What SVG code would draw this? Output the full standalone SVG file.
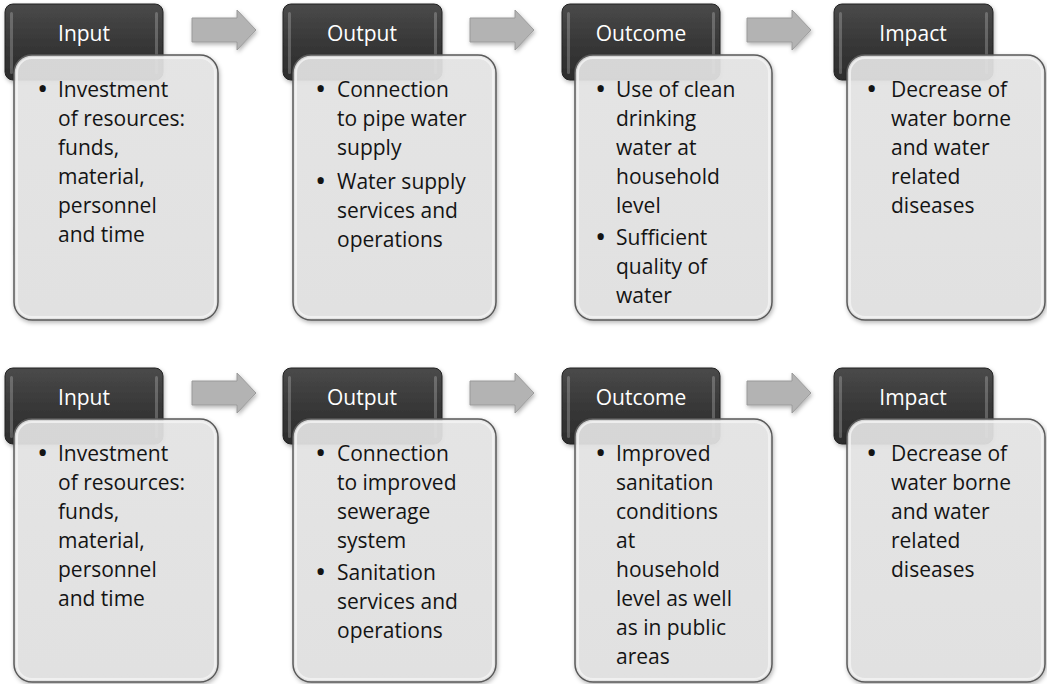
<svg xmlns="http://www.w3.org/2000/svg" width="1047" height="684" viewBox="0 0 1047 684">
<defs>
<linearGradient id="tabg" x1="0" y1="0" x2="0" y2="1">
<stop offset="0" stop-color="#4a4a4a"/>
<stop offset="0.5" stop-color="#383838"/>
<stop offset="1" stop-color="#2c2c2c"/>
</linearGradient>
<linearGradient id="bodyg" x1="0" y1="0" x2="0" y2="1">
<stop offset="0" stop-color="#e6e6e6"/>
<stop offset="1" stop-color="#e2e2e2"/>
</linearGradient>
<filter id="sh" x="-10%" y="-10%" width="125%" height="125%">
<feDropShadow dx="1" dy="2" stdDeviation="2" flood-color="#000" flood-opacity="0.3"/>
</filter>
<path id="arr" d="M0,8 H45 V0 L64,20 L45,40 V32 H0 Z"/>
</defs>
<style>
.tab{fill:url(#tabg);stroke:#222;stroke-width:1}
.hl{fill:#ffffff;opacity:0.22}
.body{fill:url(#bodyg);fill-opacity:0.9;stroke:#5a5a5a;stroke-width:1.5}
.inner{fill:none;stroke:#f4f4f4;stroke-width:2;opacity:0.8}
.arrow{fill:#b3b3b3;stroke:#9a9a9a;stroke-width:1}
.h{font-family:"Open Sans",sans-serif;font-size:21px;fill:#ffffff;text-anchor:middle}
.t{font-family:"Open Sans",sans-serif;font-size:21px;fill:#141414}
.b{font-size:30px}
</style>
<rect width="1047" height="684" fill="#ffffff"/>
<g id="connectors">
<use href="#arr" class="arrow" x="192" y="10" filter="url(#sh)"/>
<use href="#arr" class="arrow" x="470" y="10" filter="url(#sh)"/>
<use href="#arr" class="arrow" x="747" y="10" filter="url(#sh)"/>
<use href="#arr" class="arrow" x="192" y="373" filter="url(#sh)"/>
<use href="#arr" class="arrow" x="470" y="373" filter="url(#sh)"/>
<use href="#arr" class="arrow" x="747" y="373" filter="url(#sh)"/>
</g>
<g id="r1-input">
<rect class="tab" x="5" y="4" width="158" height="76" rx="8" filter="url(#sh)"/>
<rect class="hl" x="10" y="12" width="3" height="62" rx="1.5"/>
<rect class="hl" x="155" y="12" width="3" height="62" rx="1.5"/>
<text class="h" x="84" y="41">Input</text>
<rect class="body" x="14" y="55" width="204" height="265" rx="18" filter="url(#sh)"/>
<rect class="inner" x="17" y="58" width="198" height="259" rx="15"/>
<text class="t"><tspan class="b" x="37" y="99">•</tspan><tspan x="58" y="97">Investment</tspan><tspan x="58" y="126">of resources:</tspan><tspan x="58" y="155">funds,</tspan><tspan x="58" y="184">material,</tspan><tspan x="58" y="213">personnel</tspan><tspan x="58" y="242">and time</tspan></text>
</g>
<g id="r1-output">
<rect class="tab" x="283" y="4" width="159" height="76" rx="8" filter="url(#sh)"/>
<rect class="hl" x="288" y="12" width="3" height="62" rx="1.5"/>
<rect class="hl" x="434" y="12" width="3" height="62" rx="1.5"/>
<text class="h" x="362" y="41">Output</text>
<rect class="body" x="293" y="55" width="203" height="265" rx="18" filter="url(#sh)"/>
<rect class="inner" x="296" y="58" width="197" height="259" rx="15"/>
<text class="t"><tspan class="b" x="315" y="99">•</tspan><tspan x="337" y="97">Connection</tspan><tspan x="337" y="126">to pipe water</tspan><tspan x="337" y="155">supply</tspan><tspan class="b" x="315" y="191">•</tspan><tspan x="337" y="189">Water supply</tspan><tspan x="337" y="218">services and</tspan><tspan x="337" y="247">operations</tspan></text>
</g>
<g id="r1-outcome">
<rect class="tab" x="562" y="4" width="158" height="76" rx="8" filter="url(#sh)"/>
<rect class="hl" x="567" y="12" width="3" height="62" rx="1.5"/>
<rect class="hl" x="712" y="12" width="3" height="62" rx="1.5"/>
<text class="h" x="641" y="41">Outcome</text>
<rect class="body" x="575" y="55" width="197" height="265" rx="18" filter="url(#sh)"/>
<rect class="inner" x="578" y="58" width="191" height="259" rx="15"/>
<text class="t"><tspan class="b" x="595" y="99">•</tspan><tspan x="616" y="97">Use of clean</tspan><tspan x="616" y="126">drinking</tspan><tspan x="616" y="155">water at</tspan><tspan x="616" y="184">household</tspan><tspan x="616" y="213">level</tspan><tspan class="b" x="595" y="247">•</tspan><tspan x="616" y="245">Sufficient</tspan><tspan x="616" y="274">quality of</tspan><tspan x="616" y="303">water</tspan></text>
</g>
<g id="r1-impact">
<rect class="tab" x="834" y="4" width="159" height="76" rx="8" filter="url(#sh)"/>
<rect class="hl" x="839" y="12" width="3" height="62" rx="1.5"/>
<rect class="hl" x="985" y="12" width="3" height="62" rx="1.5"/>
<text class="h" x="913" y="41">Impact</text>
<rect class="body" x="847" y="55" width="198" height="265" rx="18" filter="url(#sh)"/>
<rect class="inner" x="850" y="58" width="192" height="259" rx="15"/>
<text class="t"><tspan class="b" x="866" y="99">•</tspan><tspan x="891" y="97">Decrease of</tspan><tspan x="891" y="126">water borne</tspan><tspan x="891" y="155">and water</tspan><tspan x="891" y="184">related</tspan><tspan x="891" y="213">diseases</tspan></text>
</g>
<g id="r2-input">
<rect class="tab" x="5" y="368" width="158" height="76" rx="8" filter="url(#sh)"/>
<rect class="hl" x="10" y="376" width="3" height="62" rx="1.5"/>
<rect class="hl" x="155" y="376" width="3" height="62" rx="1.5"/>
<text class="h" x="84" y="405">Input</text>
<rect class="body" x="14" y="419" width="204" height="263" rx="18" filter="url(#sh)"/>
<rect class="inner" x="17" y="422" width="198" height="257" rx="15"/>
<text class="t"><tspan class="b" x="37" y="463">•</tspan><tspan x="58" y="461">Investment</tspan><tspan x="58" y="490">of resources:</tspan><tspan x="58" y="519">funds,</tspan><tspan x="58" y="548">material,</tspan><tspan x="58" y="577">personnel</tspan><tspan x="58" y="606">and time</tspan></text>
</g>
<g id="r2-output">
<rect class="tab" x="283" y="368" width="159" height="76" rx="8" filter="url(#sh)"/>
<rect class="hl" x="288" y="376" width="3" height="62" rx="1.5"/>
<rect class="hl" x="434" y="376" width="3" height="62" rx="1.5"/>
<text class="h" x="362" y="405">Output</text>
<rect class="body" x="293" y="419" width="203" height="263" rx="18" filter="url(#sh)"/>
<rect class="inner" x="296" y="422" width="197" height="257" rx="15"/>
<text class="t"><tspan class="b" x="315" y="463">•</tspan><tspan x="337" y="461">Connection</tspan><tspan x="337" y="490">to improved</tspan><tspan x="337" y="519">sewerage</tspan><tspan x="337" y="548">system</tspan><tspan class="b" x="315" y="582">•</tspan><tspan x="337" y="580">Sanitation</tspan><tspan x="337" y="609">services and</tspan><tspan x="337" y="638">operations</tspan></text>
</g>
<g id="r2-outcome">
<rect class="tab" x="562" y="368" width="158" height="76" rx="8" filter="url(#sh)"/>
<rect class="hl" x="567" y="376" width="3" height="62" rx="1.5"/>
<rect class="hl" x="712" y="376" width="3" height="62" rx="1.5"/>
<text class="h" x="641" y="405">Outcome</text>
<rect class="body" x="575" y="419" width="197" height="263" rx="18" filter="url(#sh)"/>
<rect class="inner" x="578" y="422" width="191" height="257" rx="15"/>
<text class="t"><tspan class="b" x="595" y="463">•</tspan><tspan x="616" y="461">Improved</tspan><tspan x="616" y="490">sanitation</tspan><tspan x="616" y="519">conditions</tspan><tspan x="616" y="548">at</tspan><tspan x="616" y="577">household</tspan><tspan x="616" y="606">level as well</tspan><tspan x="616" y="635">as in public</tspan><tspan x="616" y="664">areas</tspan></text>
</g>
<g id="r2-impact">
<rect class="tab" x="834" y="368" width="159" height="76" rx="8" filter="url(#sh)"/>
<rect class="hl" x="839" y="376" width="3" height="62" rx="1.5"/>
<rect class="hl" x="985" y="376" width="3" height="62" rx="1.5"/>
<text class="h" x="913" y="405">Impact</text>
<rect class="body" x="847" y="419" width="198" height="263" rx="18" filter="url(#sh)"/>
<rect class="inner" x="850" y="422" width="192" height="257" rx="15"/>
<text class="t"><tspan class="b" x="866" y="463">•</tspan><tspan x="891" y="461">Decrease of</tspan><tspan x="891" y="490">water borne</tspan><tspan x="891" y="519">and water</tspan><tspan x="891" y="548">related</tspan><tspan x="891" y="577">diseases</tspan></text>
</g>
</svg>
